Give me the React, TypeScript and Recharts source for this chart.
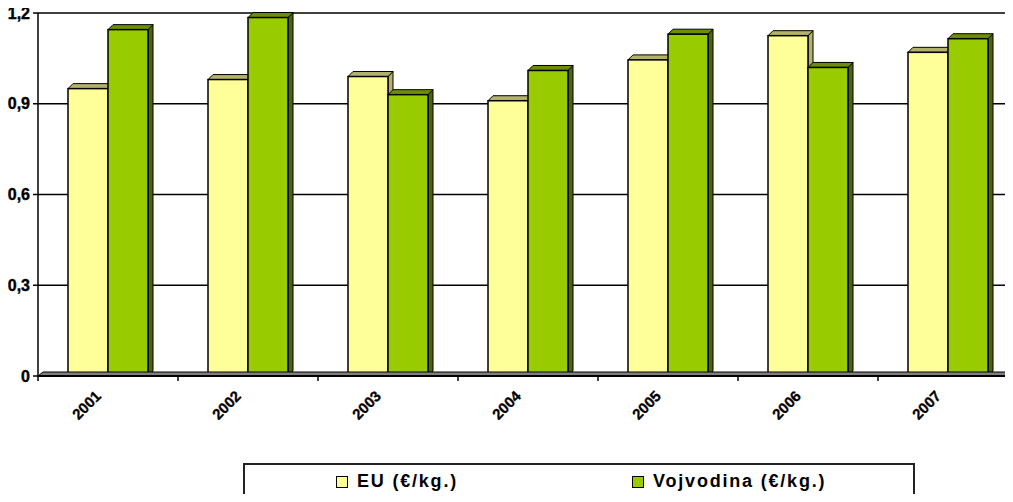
import React from "react";
import { BarChart, Bar, XAxis, YAxis, CartesianGrid, ReferenceLine } from "recharts";

// years on the category axis
const years = ["2001", "2002", "2003", "2004", "2005", "2006", "2007"];
// prices (€/kg)
const euPrice = [0.95, 0.98, 0.99, 0.91, 1.045, 1.125, 1.07];
const vojvodinaPrice = [1.145, 1.185, 0.93, 1.01, 1.13, 1.02, 1.115];
const yTicks = [0, 0.3, 0.6, 0.9, 1.2];

const seriesNames = ["EU (€/kg.)", "Vojvodina (€/kg.)"];
const colors = {
  eu: { front: "#ffff99", top: "#b2b26b", side: "#b2b26b" },
  voj: { front: "#99cc00", top: "#6b8f00", side: "#4d6600" },
};

const data = years.map((year, i) => ({
  year,
  eu: euPrice[i],
  voj: vojvodinaPrice[i],
}));

const FONT = "Arial, 'Liberation Sans', sans-serif";
const DEPTH = 5;

// simple 3d box like the excel original: front face, top face, right side
function make3dBar(c: { front: string; top: string; side: string }) {
  return (props: any) => {
    const { x, y, width, height } = props;
    if (!height || height <= 0) return <g />;
    const d = DEPTH;
    return (
      <g>
        <polygon
          points={`${x + width},${y} ${x + width + d},${y - d} ${x + width + d},${y + height - d} ${x + width},${y + height}`}
          fill={c.side}
          stroke="#000"
          strokeWidth={1}
        />
        <polygon
          points={`${x},${y} ${x + d},${y - d} ${x + width + d},${y - d} ${x + width},${y}`}
          fill={c.top}
          stroke="#000"
          strokeWidth={1}
        />
        <rect x={x} y={y} width={width} height={height} fill={c.front} stroke="#000" strokeWidth={1.5} />
      </g>
    );
  };
}

// gray 3d floor with the category boundary ticks underneath
const Floor = (props: any) => {
  const { x1, x2, y1 } = props;
  if (x1 == null) return <g />;
  const step = (x2 - x1) / years.length;
  const ticks = Array.from({ length: years.length + 1 }, (_, i) => x1 + i * step);
  return (
    <g>
      <polygon
        points={`${x1},${y1} ${x1 + DEPTH},${y1 - 4} ${x2 + DEPTH},${y1 - 4} ${x2},${y1}`}
        fill="#808080"
        stroke="#000"
        strokeWidth={1}
      />
      <line x1={x1} x2={x2} y1={y1} y2={y1} stroke="#000" strokeWidth={2} />
      {ticks.map((t, i) => (
        <line key={i} x1={t} x2={t} y1={y1} y2={y1 + 5} stroke="#000" strokeWidth={1.5} />
      ))}
    </g>
  );
};

const YearTick = (props: any) => {
  const { x, y, payload } = props;
  return (
    <g transform={`translate(${x - 6},${y + 13})`}>
      <text
        textAnchor="end"
        transform="rotate(-45)"
        fontFamily={FONT}
        fontWeight="bold"
        fontSize={15}
        fill="#000"
        stroke="#000"
        strokeWidth={0.3}
      >
        {payload.value}
      </text>
    </g>
  );
};

const ValueTick = (props: any) => {
  const { x, y, payload } = props;
  return (
    <text
      x={x - 1}
      y={y + 5.5}
      textAnchor="end"
      fontFamily={FONT}
      fontWeight="bold"
      fontSize={16}
      fill="#000"
      stroke="#000"
      strokeWidth={0.4}
    >
      {String(payload.value).replace(".", ",")}
    </text>
  );
};

export default function App() {
  const swatches = [colors.eu.front, colors.voj.front];
  return (
    <div style={{ position: "relative", width: 1013, height: 502, margin: -8, overflow: "hidden", background: "#fff" }}>
      <BarChart
        width={1030}
        height={502}
        data={data}
        margin={{ top: 13, right: 12, left: 0, bottom: 0 }}
        barCategoryGap={30}
        barGap={0}
      >
        <CartesianGrid vertical={false} stroke="#000" strokeWidth={1.5} strokeDasharray="" />
        <YAxis
          width={38}
          domain={[0, 1.2]}
          ticks={yTicks}
          interval={0}
          tick={<ValueTick />}
          axisLine={{ stroke: "#000", strokeWidth: 1.5 }}
          tickLine={{ stroke: "#000", strokeWidth: 1.5 }}
          tickSize={5}
        />
        <XAxis dataKey="year" height={126} interval={0} tick={<YearTick />} tickLine={false} axisLine={false} />
        <ReferenceLine y={0} shape={<Floor />} />
        <Bar dataKey="eu" name={seriesNames[0]} fill={colors.eu.front} shape={make3dBar(colors.eu)} isAnimationActive={false} />
        <Bar dataKey="voj" name={seriesNames[1]} fill={colors.voj.front} shape={make3dBar(colors.voj)} isAnimationActive={false} />
      </BarChart>
      <div
        style={{
          position: "absolute",
          left: 243,
          top: 463,
          width: 668,
          height: 33,
          border: "2px solid #222",
          fontFamily: FONT,
          fontWeight: "bold",
          fontSize: 18,
          letterSpacing: 1.8,
        }}
      >
        {seriesNames.map((name, i) => (
          <span
            key={name}
            style={{ position: "absolute", left: i === 0 ? 91 : 387, top: 6, display: "flex", alignItems: "center", whiteSpace: "nowrap" }}
          >
            <span
              style={{
                display: "inline-block",
                width: 10,
                height: 10,
                background: swatches[i],
                border: "1px solid #000",
                marginRight: 9,
              }}
            />
            {name}
          </span>
        ))}
      </div>
    </div>
  );
}
